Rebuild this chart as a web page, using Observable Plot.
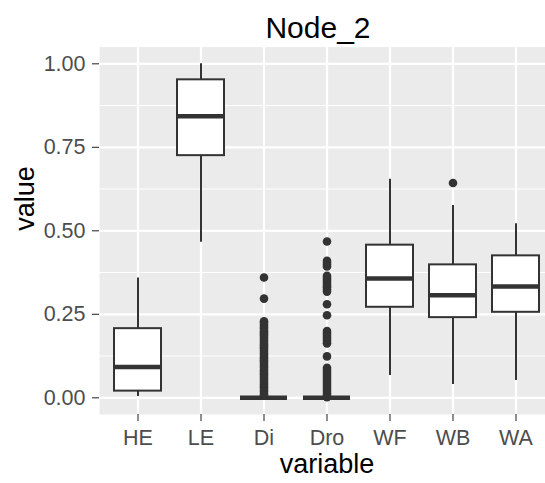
<!DOCTYPE html>
<html>
<head>
<meta charset="utf-8">
<script src="https://cdn.jsdelivr.net/npm/d3@7"></script>
<script src="https://cdn.jsdelivr.net/npm/@observablehq/plot@0.6"></script>
<style>
  html, body { margin: 0; padding: 0; background: #fff; overflow: hidden; }
  #chart { position: relative; width: 545px; height: 483px; overflow: hidden; }
</style>
</head>
<body>
<div id="chart"></div>
<script>
// Box-plot summaries per variable
const variables    = ["HE", "LE", "Di", "Dro", "WF", "WB", "WA"];
const lowerWhisker = [0.004, 0.466, 0, 0, 0.067, 0.040, 0.052];
const q1           = [0.020, 0.725, 0, 0, 0.271, 0.240, 0.256];
const median       = [0.092, 0.843, 0, 0, 0.357, 0.307, 0.333];
const q3           = [0.207, 0.952, 0, 0, 0.457, 0.398, 0.425];
const upperWhisker = [0.359, 1.000, 0, 0, 0.654, 0.576, 0.521];

// Outlying values
const diOutliers = [0.360, 0.297, 0.229, 0.224, 0.218, 0.212, 0.207, 0.201, 0.196, 0.190,
  0.185, 0.179, 0.173, 0.168, 0.162, 0.157, 0.151, 0.146, 0.140, 0.134, 0.129, 0.123,
  0.118, 0.112, 0.107, 0.101, 0.095, 0.090, 0.084, 0.079, 0.073, 0.068, 0.062, 0.057,
  0.051, 0.045, 0.040, 0.034, 0.029, 0.023, 0.018, 0.012, 0.007];
const droOutliers = [0.468, 0.410, 0.404, 0.398, 0.393, 0.365, 0.359, 0.353, 0.347, 0.341,
  0.335, 0.330, 0.324, 0.318, 0.280, 0.247, 0.200, 0.194, 0.188, 0.182, 0.176, 0.170,
  0.163, 0.124, 0.090, 0.084, 0.078, 0.072, 0.066, 0.060, 0.054, 0.048, 0.042, 0.036,
  0.030, 0.024, 0.018, 0.012, 0.006, 0.002];
const wbOutliers = [0.643];

// Axis breaks
const yTicks = [0, 0.25, 0.5, 0.75, 1];
const yMinor = [0.125, 0.375, 0.625, 0.875];

const boxes = variables.map((v, i) => ({
  variable: v, lo: lowerWhisker[i], q1: q1[i], median: median[i], q3: q3[i], hi: upperWhisker[i]
}));
const outliers = [
  ...diOutliers.map(value => ({variable: "Di", value})),
  ...droOutliers.map(value => ({variable: "Dro", value})),
  ...wbOutliers.map(value => ({variable: "WB", value}))
];

const font = "'Liberation Sans', Arial, Helvetica, sans-serif";
const ink = "#333333";

const chart = Plot.plot({
  width: 555,
  height: 483,
  marginLeft: 99,
  marginRight: 1,
  marginTop: 46.6,
  marginBottom: 69,
  style: {fontFamily: font, background: "transparent", maxWidth: "none", overflow: "visible"},
  x: {domain: variables, paddingInner: 0.25, paddingOuter: 0.225, label: null},
  y: {domain: [-0.05, 1.05], label: null},
  marks: [
    Plot.frame({fill: "#EBEBEB", stroke: null}),
    Plot.ruleY(yMinor, {stroke: "white", strokeWidth: 1.1}),
    Plot.ruleY(yTicks, {stroke: "white", strokeWidth: 2.2}),
    Plot.ruleX(variables, {stroke: "white", strokeWidth: 2.2}),
    Plot.ruleX(boxes, {x: "variable", y1: "lo", y2: "hi", stroke: ink, strokeWidth: 2}),
    Plot.barY(boxes, {x: "variable", y1: "q1", y2: "q3", fill: "white", stroke: ink, strokeWidth: 2}),
    Plot.tickY(boxes, {x: "variable", y: "median", stroke: ink, strokeWidth: 4.5}),
    Plot.dot(outliers, {x: "variable", y: "value", r: 4.3, fill: ink, stroke: null}),
    Plot.axisY(yTicks, {
      tickFormat: d3.format(".2f"), tickSize: 7, tickPadding: 7,
      fontSize: 21.5, stroke: ink, fill: "#4D4D4D", strokeWidth: 1.1, label: null
    }),
    Plot.axisX({
      tickSize: 7, tickPadding: 8.7,
      fontSize: 21.5, stroke: ink, fill: "#4D4D4D", strokeWidth: 1.1, label: null
    }),
    Plot.text(["Node_2"], {frameAnchor: "top", dx: -9, dy: -30.6, fontSize: 30, fill: "black"}),
    Plot.text(["variable"], {frameAnchor: "bottom", dy: 58.4, fontSize: 27, fill: "black"}),
    Plot.text(["value"], {frameAnchor: "left", dx: -74.3, rotate: -90, fontSize: 27, fill: "black"})
  ]
});

document.getElementById("chart").appendChild(chart);
</script>
</body>
</html>
